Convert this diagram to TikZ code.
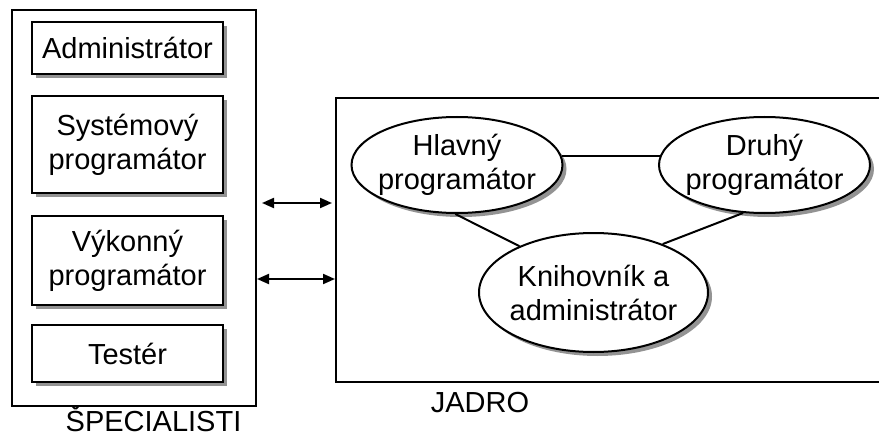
\documentclass[tikz,border=0pt]{standalone}
\usepackage{fontspec}
\setmainfont{Liberation Sans}
\usetikzlibrary{shapes.geometric,shadows,arrows.meta}

\begin{document}
\begin{tikzpicture}[x=1pt,y=-1pt,
  every node/.style={font=\fontsize{29}{34}\selectfont, align=center, inner sep=0pt},
  outline/.style={draw=black, line width=2pt},
  shade/.style={drop shadow={shadow xshift=4pt, shadow yshift=-4pt, fill=gray!85, opacity=1}},
  role/.style={outline, shade, fill=white, rectangle, minimum width=191pt},
  member/.style={outline, shade, fill=white, ellipse, inner xsep=-5pt},
  link/.style={line width=2pt},
  both/.style={line width=2pt, {Triangle[length=12pt,width=10pt]}-{Triangle[length=12pt,width=10pt]}}
]
\useasboundingbox (0,0) rectangle (879,436);

% group frames
\node[outline, rectangle, minimum width=244pt, minimum height=396pt] (spec) at (134,208) {};
\node[outline, rectangle, minimum width=560pt, minimum height=284pt] (jadro) at (616,240) {};

% specialists
\node[role, minimum height=52pt] (adm) at (127.5,48) {Administrátor};
\node[role, minimum height=97pt] (sys) at (127.5,144.5) {Systémový\\programátor};
\node[role, minimum height=89pt] (vyk) at (127.5,260.5) {Výkonný\\programátor};
\node[role, minimum height=57pt] (test) at (127.5,353.5) {Testér};

% core team
\node[member, minimum width=211pt, minimum height=96pt] (hl) at (457,165) {Hlavný\\programátor};
\node[member, minimum width=211pt, minimum height=96pt] (dr) at (764.5,165) {Druhý\\programátor};
\node[member, minimum width=229pt, minimum height=119pt] (kn) at (593.5,292.5) {Knihovník a\\administrátor};

% links inside the core
\draw[link] (hl.5) -- (dr.175);
\draw[link] (hl.268) -- (kn.148);
\draw[link] (dr.246) -- (kn.35);

% exchanges between the two groups
\coordinate (a1) at (262,203);
\coordinate (b1) at (332,203);
\draw[both] (a1) -- (b1);
\coordinate (a2) at (spec.east |- 0,279);
\coordinate (b2) at (jadro.west |- 0,279);
\draw[both] (a2) -- (b2);

% group labels
\node[anchor=base] (lspec) at (153.5,431) {ŠPECIALISTI};
\node[anchor=base] (ljad) at (480,412) {JADRO};
\end{tikzpicture}
\end{document}
